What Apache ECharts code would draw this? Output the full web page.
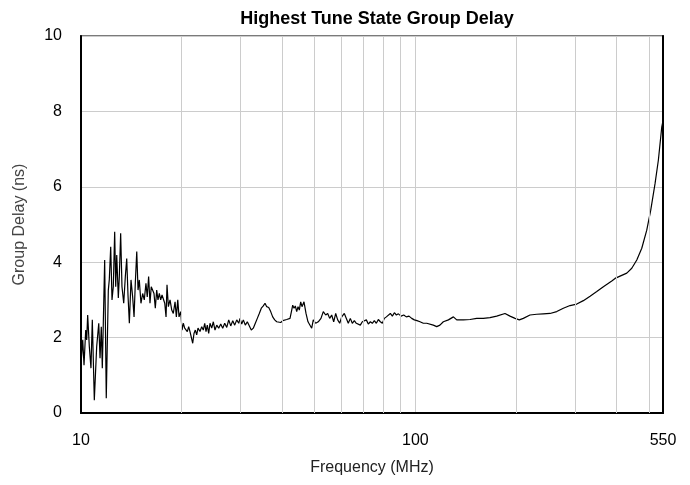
<!DOCTYPE html>
<html>
<head>
<meta charset="utf-8">
<script src="https://cdn.jsdelivr.net/npm/echarts@6/dist/echarts.min.js"></script>
<style>
  html, body { margin: 0; padding: 0; background: #fff; }
  #chart { width: 690px; height: 485px; }
</style>
</head>
<body>
<div id="chart"></div>
<script>
// frequency in MHz (log axis), group delay in ns
const freqs = [
  10.0, 10.12, 10.21, 10.33, 10.40, 10.47, 10.59, 10.71, 10.81, 10.96,
  11.14, 11.30, 11.40, 11.50, 11.58, 11.66, 11.77, 11.90, 12.07, 12.15,
  12.27, 12.38, 12.49, 12.61, 12.70, 12.79, 12.93, 13.02, 13.14, 13.26,
  13.42, 13.57, 13.70, 13.82, 13.95, 14.11, 14.27, 14.41, 14.54, 14.68,
  14.81, 14.94, 15.11, 15.29, 15.46, 15.64, 15.78, 15.93, 16.08, 16.22,
  16.38, 16.53, 16.68, 16.84, 16.99, 17.15, 17.31, 17.47, 17.63, 17.80,
  17.96, 18.08, 18.25, 18.46, 18.68, 18.88, 19.11, 19.28, 19.47, 19.64,
  19.87, 20.05, 20.23, 20.42, 20.61, 20.79, 20.99, 21.18, 21.37, 21.58,
  21.77, 21.97, 22.18, 22.38, 22.69, 22.96, 23.21, 23.44, 23.65, 23.86,
  24.09, 24.31, 24.60, 24.87, 25.16, 25.46, 25.81, 26.17, 26.53, 26.90,
  27.28, 27.65, 28.04, 28.43, 28.82, 29.22, 29.63, 29.89, 30.24, 30.58,
  31.00, 31.43, 31.86, 32.30, 32.75, 33.21, 33.67, 34.13, 34.61, 35.09,
  35.50, 35.92, 36.42, 36.92, 37.43, 37.95, 38.48, 39.01, 39.56, 40.11,
  40.66, 41.23, 41.80, 42.17, 42.67, 42.96, 43.35, 43.74, 44.16, 44.56,
  44.96, 45.39, 45.80, 46.43, 47.08, 47.73, 48.39, 48.96, 49.50, 50.32,
  51.23, 52.19, 53.03, 53.91, 54.66, 55.42, 56.19, 56.97, 57.76, 58.56,
  59.38, 60.20, 61.29, 62.13, 62.99, 63.87, 64.76, 65.66, 66.57, 67.49,
  68.43, 69.38, 70.34, 71.32, 72.31, 73.31, 74.33, 75.36, 76.41, 77.47,
  78.55, 79.64, 80.74, 81.87, 83.00, 84.15, 85.32, 86.51, 87.71, 88.93,
  90.60, 92.26, 93.93, 95.69, 97.48, 99.25, 101.1, 103.2, 105.6, 108.1,
  113.1, 115.8, 118.4, 121.2, 125.5, 129.9, 132.9, 139.1, 145.7, 152.5,
  159.6, 167.1, 175.0, 185.3, 191.8, 198.6, 204.5, 210.2, 220.1, 230.5,
  241.2, 252.6, 264.6, 276.9, 290.0, 303.7, 317.8, 332.9, 348.6, 364.8,
  386.5, 395.4, 409.2, 428.6, 443.6, 459.2, 475.2, 491.8, 505.5, 520.8,
  532.8, 545.4, 550
];
const delays = [
  1.30, 1.94, 1.27, 2.20, 1.94, 2.60, 1.76, 1.19, 2.47, 0.34,
  1.76, 2.38, 1.45, 2.29, 1.19, 2.38, 4.06, 0.39, 3.26, 3.53,
  4.41, 3.00, 3.35, 4.81, 3.35, 4.19, 3.05, 3.62, 4.77, 3.35,
  2.91, 3.62, 4.10, 3.13, 2.38, 3.53, 3.08, 2.55, 3.48, 4.28,
  3.26, 3.53, 2.91, 3.17, 3.00, 3.44, 3.08, 3.62, 2.91, 3.35,
  3.40, 3.17, 2.78, 3.26, 3.00, 3.17, 3.00, 3.13, 3.17, 2.91,
  2.55, 3.40, 2.82, 3.00, 2.73, 2.64, 2.95, 2.55, 3.00, 2.55,
  2.69, 2.20, 2.38, 2.25, 2.29, 2.16, 2.29, 2.16, 2.11, 1.85,
  2.11, 2.20, 2.07, 2.25, 2.16, 2.29, 2.20, 2.38, 2.16, 2.33,
  2.11, 2.38, 2.25, 2.42, 2.20, 2.33, 2.25, 2.36, 2.25, 2.38,
  2.27, 2.47, 2.31, 2.45, 2.33, 2.47, 2.38, 2.51, 2.36, 2.47,
  2.33, 2.42, 2.38, 2.20, 2.25, 2.38, 2.51, 2.64, 2.78, 2.84,
  2.91, 2.82, 2.80, 2.69, 2.55, 2.47, 2.42, 2.45, 2.40, 2.45,
  2.42, 2.48, 2.45, 2.51, 2.73, 2.86, 2.78, 2.84, 2.69, 2.82,
  2.73, 2.95, 2.82, 2.95, 2.64, 2.42, 2.47, 2.25, 2.47, 2.38,
  2.42, 2.51, 2.69, 2.60, 2.64, 2.51, 2.60, 2.42, 2.64, 2.47,
  2.38, 2.55, 2.64, 2.60, 2.38, 2.51, 2.38, 2.45, 2.38, 2.42,
  2.33, 2.42, 2.38, 2.47, 2.36, 2.42, 2.38, 2.45, 2.38, 2.48,
  2.42, 2.38, 2.51, 2.55, 2.57, 2.64, 2.57, 2.66, 2.60, 2.63,
  2.57, 2.60, 2.55, 2.57, 2.51, 2.47, 2.45, 2.42, 2.38, 2.38,
  2.33, 2.29, 2.33, 2.42, 2.47, 2.55, 2.47, 2.47, 2.48, 2.51,
  2.51, 2.53, 2.57, 2.64, 2.57, 2.51, 2.47, 2.51, 2.60, 2.62,
  2.63, 2.64, 2.69, 2.78, 2.85, 2.89, 2.98, 3.10, 3.22, 3.35,
  3.50, 3.57, 3.63, 3.71, 3.84, 4.06, 4.37, 4.85, 5.38, 6.09,
  6.71, 7.59, 7.75
];
// vertical grid lines at the minor log positions
const minorFreqs = [20, 30, 40, 50, 60, 70, 80, 90, 200, 300, 400, 500];
const yTicks = [0, 2, 4, 6, 8, 10];

const font = 'Liberation Sans, Arial, sans-serif';
const chart = echarts.init(document.getElementById('chart'), null, { renderer: 'canvas' });

chart.setOption({
  animation: false,
  backgroundColor: '#fff',
  title: {
    text: 'Highest Tune State Group Delay',
    left: 372,
    top: 5,
    textAlign: 'center',
    textStyle: { fontFamily: font, fontSize: 18, fontWeight: 'bold', color: '#000' },
  },
  grid: {
    left: 81, top: 36, width: 582, height: 377,
    show: true, borderColor: '#7a7a7a', borderWidth: 2,
  },
  xAxis: {
    type: 'log',
    logBase: 10,
    min: 10,
    max: 550,
    name: 'Frequency (MHz)',
    nameLocation: 'middle',
    nameGap: 47,
    nameTextStyle: { fontFamily: font, fontSize: 16, color: '#222' },
    axisLine: { show: true, lineStyle: { color: '#000', width: 2 } },
    axisTick: { show: false },
    axisLabel: {
      fontFamily: font, fontSize: 16, color: '#000', margin: 20,
      showMinLabel: true, showMaxLabel: true,
      formatter: (v) => String(Math.round(v)),
    },
    splitLine: { show: true, lineStyle: { color: '#cccccc', width: 1 } },
  },
  yAxis: [
    {
      type: 'value',
      min: yTicks[0],
      max: yTicks[yTicks.length - 1],
      interval: 2,
      name: 'Group Delay (ns)',
      nameLocation: 'middle',
      nameGap: 53,
      nameTextStyle: { fontFamily: font, fontSize: 16, color: '#444' },
      axisLine: { show: true, lineStyle: { color: '#000', width: 2 } },
      axisTick: { show: false },
      axisLabel: { fontFamily: font, fontSize: 16, color: '#000', margin: 19 },
      splitLine: { show: true, lineStyle: { color: '#cccccc', width: 1 } },
    },
    {
      type: 'value',
      position: 'right',
      min: 0,
      max: 10,
      axisLine: { show: true, lineStyle: { color: '#000', width: 2 } },
      axisTick: { show: false },
      axisLabel: { show: false },
      splitLine: { show: false },
    },
  ],
  series: [
    {
      type: 'line',
      data: [],
      z: 1,
      silent: true,
      markLine: {
        silent: true,
        symbol: ['none', 'none'],
        label: { show: false },
        lineStyle: { color: '#cccccc', width: 1, type: 'solid' },
        emphasis: { disabled: true },
        data: minorFreqs.map((f) => ({ xAxis: f })),
      },
    },
    {
      type: 'line',
      z: 3,
      showSymbol: false,
      symbol: 'none',
      lineStyle: { color: '#000', width: 1.2 },
      data: freqs.map((f, i) => [f, delays[i]]),
    },
  ],
});
</script>
</body>
</html>
